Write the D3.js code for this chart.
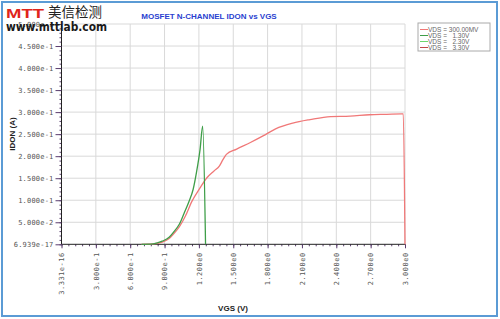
<!DOCTYPE html>
<html>
<head>
<meta charset="utf-8">
<script src="https://cdn.jsdelivr.net/npm/d3@7"></script>
<style>
  body { margin: 0; background: #fff; }
  svg { display: block; }
</style>
</head>
<body>
<svg id="drawing_region"></svg>
<script>
// values
const xTickValues = [0, 0.3, 0.6, 0.9, 1.2, 1.5, 1.8, 2.1, 2.4, 2.7, 3.0];
const xTickLabels = ["3.331e-16", "3.000e-1", "6.000e-1", "9.000e-1", "1.200e0", "1.500e0",
                     "1.800e0", "2.100e0", "2.400e0", "2.700e0", "3.000e0"];
const yTickValues = [0, 0.05, 0.1, 0.15, 0.2, 0.25, 0.3, 0.35, 0.4, 0.45, 0.5];
const yTickLabels = ["6.939e-17", "5.000e-2", "1.000e-1", "1.500e-1", "2.000e-1", "2.500e-1",
                     "3.000e-1", "3.500e-1", "4.000e-1", "4.500e-1", "5.000e-1"];

const vgs300mV = [0.70, 0.80, 0.88, 0.94, 0.98, 1.03, 1.08, 1.14, 1.21, 1.27, 1.33, 1.38, 1.41, 1.44,
                  1.53, 1.65, 1.76, 1.87, 2.02, 2.17, 2.35, 2.52, 2.69, 2.84, 2.97, 2.985, 3.0];
const idon300mV = [0, 0.001, 0.005, 0.013, 0.024, 0.040, 0.063, 0.098, 0.128, 0.151, 0.166, 0.178, 0.192, 0.204,
                   0.216, 0.231, 0.246, 0.262, 0.275, 0.283, 0.290, 0.291, 0.294, 0.295, 0.296, 0.296, 0];

const vgs1_30 = [0.70, 0.80, 0.88, 0.94, 0.98, 1.03, 1.07, 1.11, 1.15, 1.18, 1.21, 1.233, 1.258];
const idon1_30 = [0, 0.001, 0.007, 0.016, 0.028, 0.046, 0.070, 0.095, 0.125, 0.165, 0.215, 0.268, 0];

const vgs2_30 = [];
const idon2_30 = [];
const vgs3_30 = [];
const idon3_30 = [];

const legendLabels = ["VDS = 300.00MV", "VDS =   1.30V", "VDS =   2.30V", "VDS =   3.30V"];
const seriesColors = ["#f07878", "#3e9e48", "#6cd86c", "#c04848"];

const series = [
    { vgs: vgs300mV, idon: idon300mV },
    { vgs: vgs1_30, idon: idon1_30 },
    { vgs: vgs2_30, idon: idon2_30 },
    { vgs: vgs3_30, idon: idon3_30 }
];

const width = 500, height = 319;
const svg = d3.select('#drawing_region')
    .attr('width', width)
    .attr('height', height)
    .style('font-family', '"Liberation Sans", Arial, sans-serif');

// outer blue frame
svg.append('rect')
    .attr('x', 2).attr('y', 2)
    .attr('width', 495).attr('height', 314)
    .attr('fill', '#fff')
    .attr('stroke', '#5b9bd5')
    .attr('stroke-width', 2);

const xscale = d3.scaleLinear().domain([0, 3]).range([61.5, 405]);
const yscale = d3.scaleLinear().domain([0, 0.5]).range([244.3, 24]);

// grid
const grid = svg.append('g').attr('stroke', '#d9d9d9').attr('stroke-width', 1);
grid.selectAll('line.v')
    .data(xTickValues.slice(1))
    .enter().append('line')
    .attr('x1', d => xscale(d)).attr('x2', d => xscale(d))
    .attr('y1', yscale(0)).attr('y2', yscale(0.5));
grid.selectAll('line.h')
    .data(yTickValues.slice(1))
    .enter().append('line')
    .attr('x1', xscale(0)).attr('x2', xscale(3))
    .attr('y1', d => yscale(d)).attr('y2', d => yscale(d));

// minor ticks
const xMinor = d3.range(0, 3.0001, 0.06);
const yMinor = d3.range(0, 0.5001, 0.01);

svg.append('g')
    .attr('transform', `translate(0, ${yscale(0)})`)
    .call(d3.axisBottom(xscale).tickValues(xMinor).tickSize(2).tickFormat(''))
    .call(g => g.select('.domain').remove())
    .call(g => g.selectAll('line').attr('stroke', '#5a3d6e'));

svg.append('g')
    .attr('transform', `translate(${xscale(0)}, 0)`)
    .call(d3.axisLeft(yscale).tickValues(yMinor).tickSize(2).tickFormat(''))
    .call(g => g.select('.domain').remove())
    .call(g => g.selectAll('line').attr('stroke', '#5a3d6e'));

// major axes
const xaxis = d3.axisBottom(xscale)
    .tickValues(xTickValues)
    .tickSize(4)
    .tickFormat((d, i) => xTickLabels[i]);

svg.append('g')
    .attr('transform', `translate(0, ${yscale(0)})`)
    .call(xaxis)
    .call(g => g.select('.domain').attr('stroke', '#222').attr('d', `M${xscale(0)},0H${xscale(3)}`))
    .call(g => g.selectAll('.tick line').attr('stroke', '#5a3d6e'))
    .call(g => g.selectAll('.tick text')
        .attr('transform', 'rotate(-90)')
        .attr('x', -8).attr('y', 0).attr('dy', '0.32em')
        .attr('text-anchor', 'end')
        .attr('fill', '#555')
        .attr('font-family', '"DejaVu Sans Mono", monospace')
        .attr('font-size', 7)
        .attr('letter-spacing', 0.5));

const yaxis = d3.axisLeft(yscale)
    .tickValues(yTickValues)
    .tickSize(6)
    .tickFormat((d, i) => yTickLabels[i]);

svg.append('g')
    .attr('transform', `translate(${xscale(0)}, 0)`)
    .call(yaxis)
    .call(g => g.select('.domain').attr('stroke', '#222').attr('d', `M0,${yscale(0)}V${yscale(0.5)}`))
    .call(g => g.selectAll('.tick line').attr('stroke', '#5a3d6e'))
    .call(g => g.selectAll('.tick text')
        .attr('x', -8)
        .attr('fill', '#555')
        .attr('font-family', '"DejaVu Sans Mono", monospace')
        .attr('font-size', 7)
        .attr('letter-spacing', 0.2));

// curves
const line = d3.line()
    .curve(d3.curveMonotoneX)
    .x(d => xscale(d[0]))
    .y(d => yscale(d[1]));

svg.append('g')
    .selectAll('path')
    .data(series)
    .enter().append('path')
    .attr('d', s => s.vgs.length ? line(s.vgs.map((v, i) => [v, s.idon[i]])) : null)
    .attr('fill', 'none')
    .attr('stroke', (s, i) => seriesColors[i])
    .attr('stroke-width', 1.3);

// title and axis labels
svg.append('text')
    .attr('x', 209).attr('y', 19)
    .attr('text-anchor', 'middle')
    .attr('font-size', 8)
    .attr('font-weight', 'bold')
    .attr('fill', '#2a3fd0')
    .text('MOSFET N-CHANNEL IDON vs VGS');

svg.append('text')
    .attr('x', 233).attr('y', 311)
    .attr('text-anchor', 'middle')
    .attr('font-size', 8)
    .attr('font-weight', 'bold')
    .attr('fill', '#222')
    .text('VGS (V)');

svg.append('text')
    .attr('transform', `translate(15, 134) rotate(-90)`)
    .attr('text-anchor', 'middle')
    .attr('font-size', 8)
    .attr('font-weight', 'bold')
    .attr('fill', '#222')
    .text('IDON (A)');

// legend
const legend = svg.append('g').attr('transform', 'translate(418, 23)');
legend.append('rect')
    .attr('width', 72).attr('height', 28)
    .attr('fill', '#fff')
    .attr('stroke', '#aaa');
const rows = legend.selectAll('g.row')
    .data(legendLabels)
    .enter().append('g')
    .attr('transform', (d, i) => `translate(0, ${6.5 + i * 6})`);
rows.append('line')
    .attr('x1', 2).attr('x2', 10).attr('y1', 0).attr('y2', 0)
    .attr('stroke', (d, i) => seriesColors[i])
    .attr('stroke-width', 1);
rows.append('text')
    .attr('x', 10).attr('y', 0).attr('dy', '0.35em')
    .attr('font-size', 6.5)
    .attr('fill', '#666')
    .style('white-space', 'pre')
    .text(d => d);

// logo (sits over the top y label, as in the original)
svg.append('text')
    .attr('x', 6).attr('y', 18)
    .attr('font-size', 13.5)
    .attr('font-weight', 900)
    .attr('fill', '#e0251b')
    .attr('textLength', 38)
    .attr('lengthAdjust', 'spacingAndGlyphs')
    .text('MTT');
svg.append('text')
    .attr('x', 48).attr('y', 17)
    .attr('font-family', '"Noto Sans CJK SC", sans-serif')
    .attr('font-size', 13.5)
    .attr('fill', '#222')
    .text('美信检测');
svg.append('text')
    .attr('x', 6).attr('y', 31)
    .attr('font-family', '"DejaVu Sans", sans-serif')
    .attr('font-size', 11.5)
    .attr('font-weight', 'bold')
    .attr('fill', '#1a1a1a')
    .attr('textLength', 101)
    .attr('lengthAdjust', 'spacingAndGlyphs')
    .text('www.mttlab.com');
</script>
</body>
</html>
